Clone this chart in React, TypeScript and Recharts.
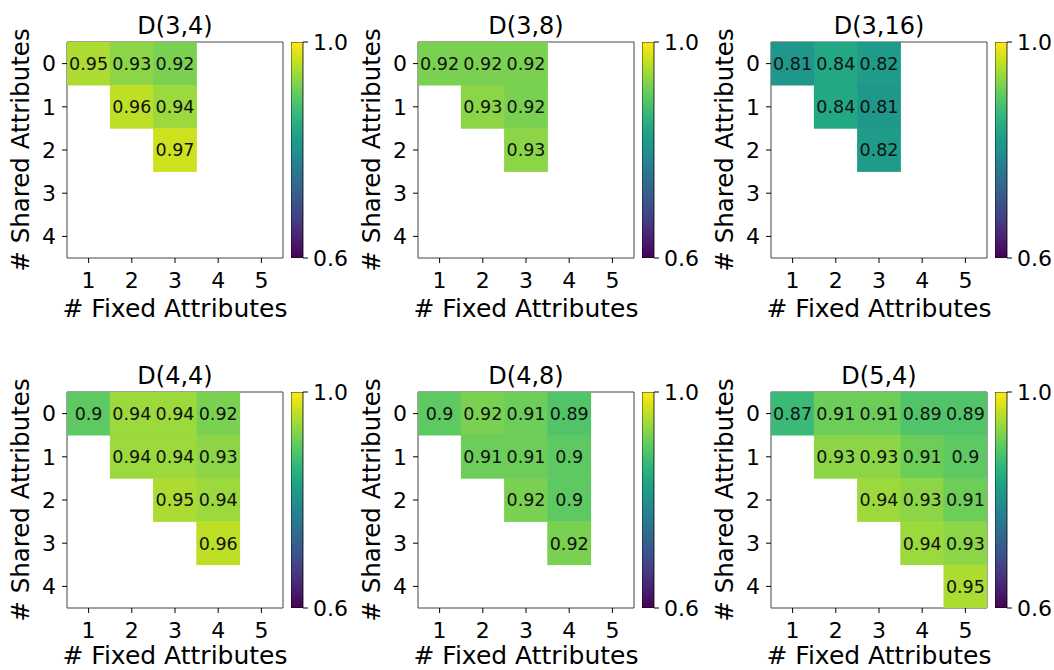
import { ScatterChart, Scatter, XAxis, YAxis, ReferenceArea, BarChart, Bar } from 'recharts';

const FONT = '"DejaVu Sans", sans-serif';

// x = # Fixed Attributes, y = # Shared Attributes
const fixedTicks = [1, 2, 3, 4, 5];
const sharedTicks = [0, 1, 2, 3, 4];
const colorbarTicks = [0.6, 1.0];
const colorDomain = [0.6, 1.0];

const titles = ['D(3,4)', 'D(3,8)', 'D(3,16)', 'D(4,4)', 'D(4,8)', 'D(5,4)'];

// rows: shared 0..4, cols: fixed 1..5, null = empty cell
const d34 = [
  [0.95, 0.93, 0.92, null, null],
  [null, 0.96, 0.94, null, null],
  [null, null, 0.97, null, null],
  [null, null, null, null, null],
  [null, null, null, null, null],
];
const d38 = [
  [0.92, 0.92, 0.92, null, null],
  [null, 0.93, 0.92, null, null],
  [null, null, 0.93, null, null],
  [null, null, null, null, null],
  [null, null, null, null, null],
];
const d316 = [
  [0.81, 0.84, 0.82, null, null],
  [null, 0.84, 0.81, null, null],
  [null, null, 0.82, null, null],
  [null, null, null, null, null],
  [null, null, null, null, null],
];
const d44 = [
  [0.9, 0.94, 0.94, 0.92, null],
  [null, 0.94, 0.94, 0.93, null],
  [null, null, 0.95, 0.94, null],
  [null, null, null, 0.96, null],
  [null, null, null, null, null],
];
const d48 = [
  [0.9, 0.92, 0.91, 0.89, null],
  [null, 0.91, 0.91, 0.9, null],
  [null, null, 0.92, 0.9, null],
  [null, null, null, 0.92, null],
  [null, null, null, null, null],
];
const d54 = [
  [0.87, 0.91, 0.91, 0.89, 0.89],
  [null, 0.93, 0.93, 0.91, 0.9],
  [null, null, 0.94, 0.93, 0.91],
  [null, null, null, 0.94, 0.93],
  [null, null, null, null, 0.95],
];

const matrices = [d34, d38, d316, d44, d48, d54];

// viridis colormap stops
const VIRIDIS = [
  '#440154', '#471365', '#482475', '#463480', '#414487', '#3b528b', '#355f8d',
  '#2f6c8e', '#2a788e', '#25848e', '#21918c', '#1e9c89', '#22a884', '#2fb47c',
  '#44bf70', '#5ec962', '#7ad151', '#9bd93c', '#bddf26', '#dfe318', '#fde725',
];

function hexToRgb(h: string) {
  return [parseInt(h.slice(1, 3), 16), parseInt(h.slice(3, 5), 16), parseInt(h.slice(5, 7), 16)];
}

function viridis(v: number) {
  const t0 = (v - colorDomain[0]) / (colorDomain[1] - colorDomain[0]);
  const t = Math.min(1, Math.max(0, t0)) * (VIRIDIS.length - 1);
  const i = Math.min(VIRIDIS.length - 2, Math.floor(t));
  const f = t - i;
  const a = hexToRgb(VIRIDIS[i]);
  const b = hexToRgb(VIRIDIS[i + 1]);
  const c = a.map((x, k) => Math.round(x + (b[k] - x) * f));
  return `rgb(${c[0]},${c[1]},${c[2]})`;
}

const fmt = (v: number) => String(Number(v.toFixed(2)));

const CHART_W = 288;
const CHART_H = 330;
const AXIS_W = 67;
const PLOT = 216;
const CELL = PLOT / fixedTicks.length;

const tickStyle = { fontSize: 22, fill: '#000', fontFamily: FONT };

function HeatCell(props: any) {
  const { cx, cy, payload } = props;
  if (cx == null || cy == null) return null;
  return (
    <g>
      <rect
        x={cx - CELL / 2 - 0.3}
        y={cy - CELL / 2 - 0.3}
        width={CELL + 0.6}
        height={CELL + 0.6}
        fill={viridis(payload.value)}
      />
      <text x={cx} y={cy} dy="0.36em" textAnchor="middle" fontSize={17.5} fill="#111" fontFamily={FONT}>
        {fmt(payload.value)}
      </text>
    </g>
  );
}

function XTitle(props: any) {
  const { x, y, width } = props.viewBox;
  return (
    <text x={x + width / 2} y={y + props.dy} textAnchor="middle" fontSize={25} fill="#000" fontFamily={FONT}>
      # Fixed Attributes
    </text>
  );
}

function YTitle(props: any) {
  const { x, y, height } = props.viewBox;
  const cx = x + 29;
  const cy = y + height / 2;
  return (
    <text
      x={cx}
      y={cy}
      transform={`rotate(-90 ${cx} ${cy})`}
      textAnchor="middle"
      fontSize={24.5}
      fill="#000"
      fontFamily={FONT}
    >
      # Shared Attributes
    </text>
  );
}

function Heatmap({ title, matrix, labelDy }: { title: string; matrix: (number | null)[][]; labelDy: number }) {
  const data: { fixed: number; shared: number; value: number }[] = [];
  matrix.forEach((row, r) =>
    row.forEach((v, c) => {
      if (v != null) data.push({ fixed: fixedTicks[c], shared: sharedTicks[r], value: v });
    })
  );

  return (
    <div style={{ position: 'relative', width: CHART_W, height: CHART_H }}>
      <ScatterChart width={CHART_W} height={CHART_H} margin={{ top: 42, right: 5, bottom: 0, left: 0 }}>
        <XAxis
          type="number"
          dataKey="fixed"
          domain={[0.5, 5.5]}
          ticks={fixedTicks}
          interval={0}
          allowDataOverflow
          height={72}
          axisLine={false}
          tickSize={5}
          tickMargin={9}
          tickLine={{ stroke: '#000' }}
          tick={tickStyle}
          label={<XTitle dy={labelDy} />}
        />
        <YAxis
          type="number"
          dataKey="shared"
          domain={[-0.5, 4.5]}
          reversed
          ticks={sharedTicks}
          interval={0}
          allowDataOverflow
          width={AXIS_W}
          axisLine={false}
          tickSize={5}
          tickMargin={6}
          tickLine={{ stroke: '#000' }}
          tick={tickStyle}
          label={<YTitle />}
        />
        <Scatter data={data} shape={<HeatCell />} isAnimationActive={false} />
        <ReferenceArea
          x1={0.5}
          x2={5.5}
          y1={-0.5}
          y2={4.5}
          fill="none"
          stroke="#444"
          strokeWidth={1}
          ifOverflow="visible"
        />
      </ScatterChart>
      <svg
        width={CHART_W}
        height={42}
        style={{ position: 'absolute', left: 0, top: 0, pointerEvents: 'none' }}
      >
        <text x={AXIS_W + PLOT / 2} y={34} textAnchor="middle" fontSize={24} fill="#000" fontFamily={FONT}>
          {title}
        </text>
      </svg>
    </div>
  );
}

const colorbarData = [{ name: 'cb', range: colorDomain }];

function Colorbar() {
  return (
    <BarChart
      width={62}
      height={CHART_H}
      data={colorbarData}
      margin={{ top: 42, right: 0, bottom: 72, left: 0 }}
      barCategoryGap={0}
      barGap={0}
    >
      <XAxis dataKey="name" type="category" hide />
      <YAxis
        orientation="right"
        type="number"
        domain={colorDomain}
        ticks={colorbarTicks}
        interval={0}
        allowDataOverflow
        width={50}
        axisLine={false}
        tickSize={5}
        tickMargin={5}
        tickLine={{ stroke: '#000' }}
        tick={tickStyle}
        tickFormatter={(v: number) => v.toFixed(1)}
      />
      <Bar dataKey="range" fill="url(#viridisGrad)" stroke="#000" strokeWidth={0.8} isAnimationActive={false} />
    </BarChart>
  );
}

const panelLefts = [0, 351, 704];
const panelTops = [0, 350];

export default function App() {
  return (
    <div
      style={{
        position: 'absolute',
        left: 0,
        top: 0,
        width: 1054,
        height: 670,
        overflow: 'hidden',
        background: '#fff',
        fontFamily: FONT,
      }}
    >
      <svg width={0} height={0} style={{ position: 'absolute' }}>
        <defs>
          <linearGradient id="viridisGrad" x1="0" y1="1" x2="0" y2="0">
            {VIRIDIS.map((c, k) => (
              <stop key={k} offset={k / (VIRIDIS.length - 1)} stopColor={c} />
            ))}
          </linearGradient>
        </defs>
      </svg>
      {titles.map((t, i) => {
        const left = panelLefts[i % 3];
        const row = Math.floor(i / 3);
        const top = panelTops[row];
        return (
          <div key={t}>
            <div style={{ position: 'absolute', left, top }}>
              <Heatmap title={t} matrix={matrices[i]} labelDy={row === 0 ? 59 : 56} />
            </div>
            <div style={{ position: 'absolute', left: left + AXIS_W + 224, top }}>
              <Colorbar />
            </div>
          </div>
        );
      })}
    </div>
  );
}
